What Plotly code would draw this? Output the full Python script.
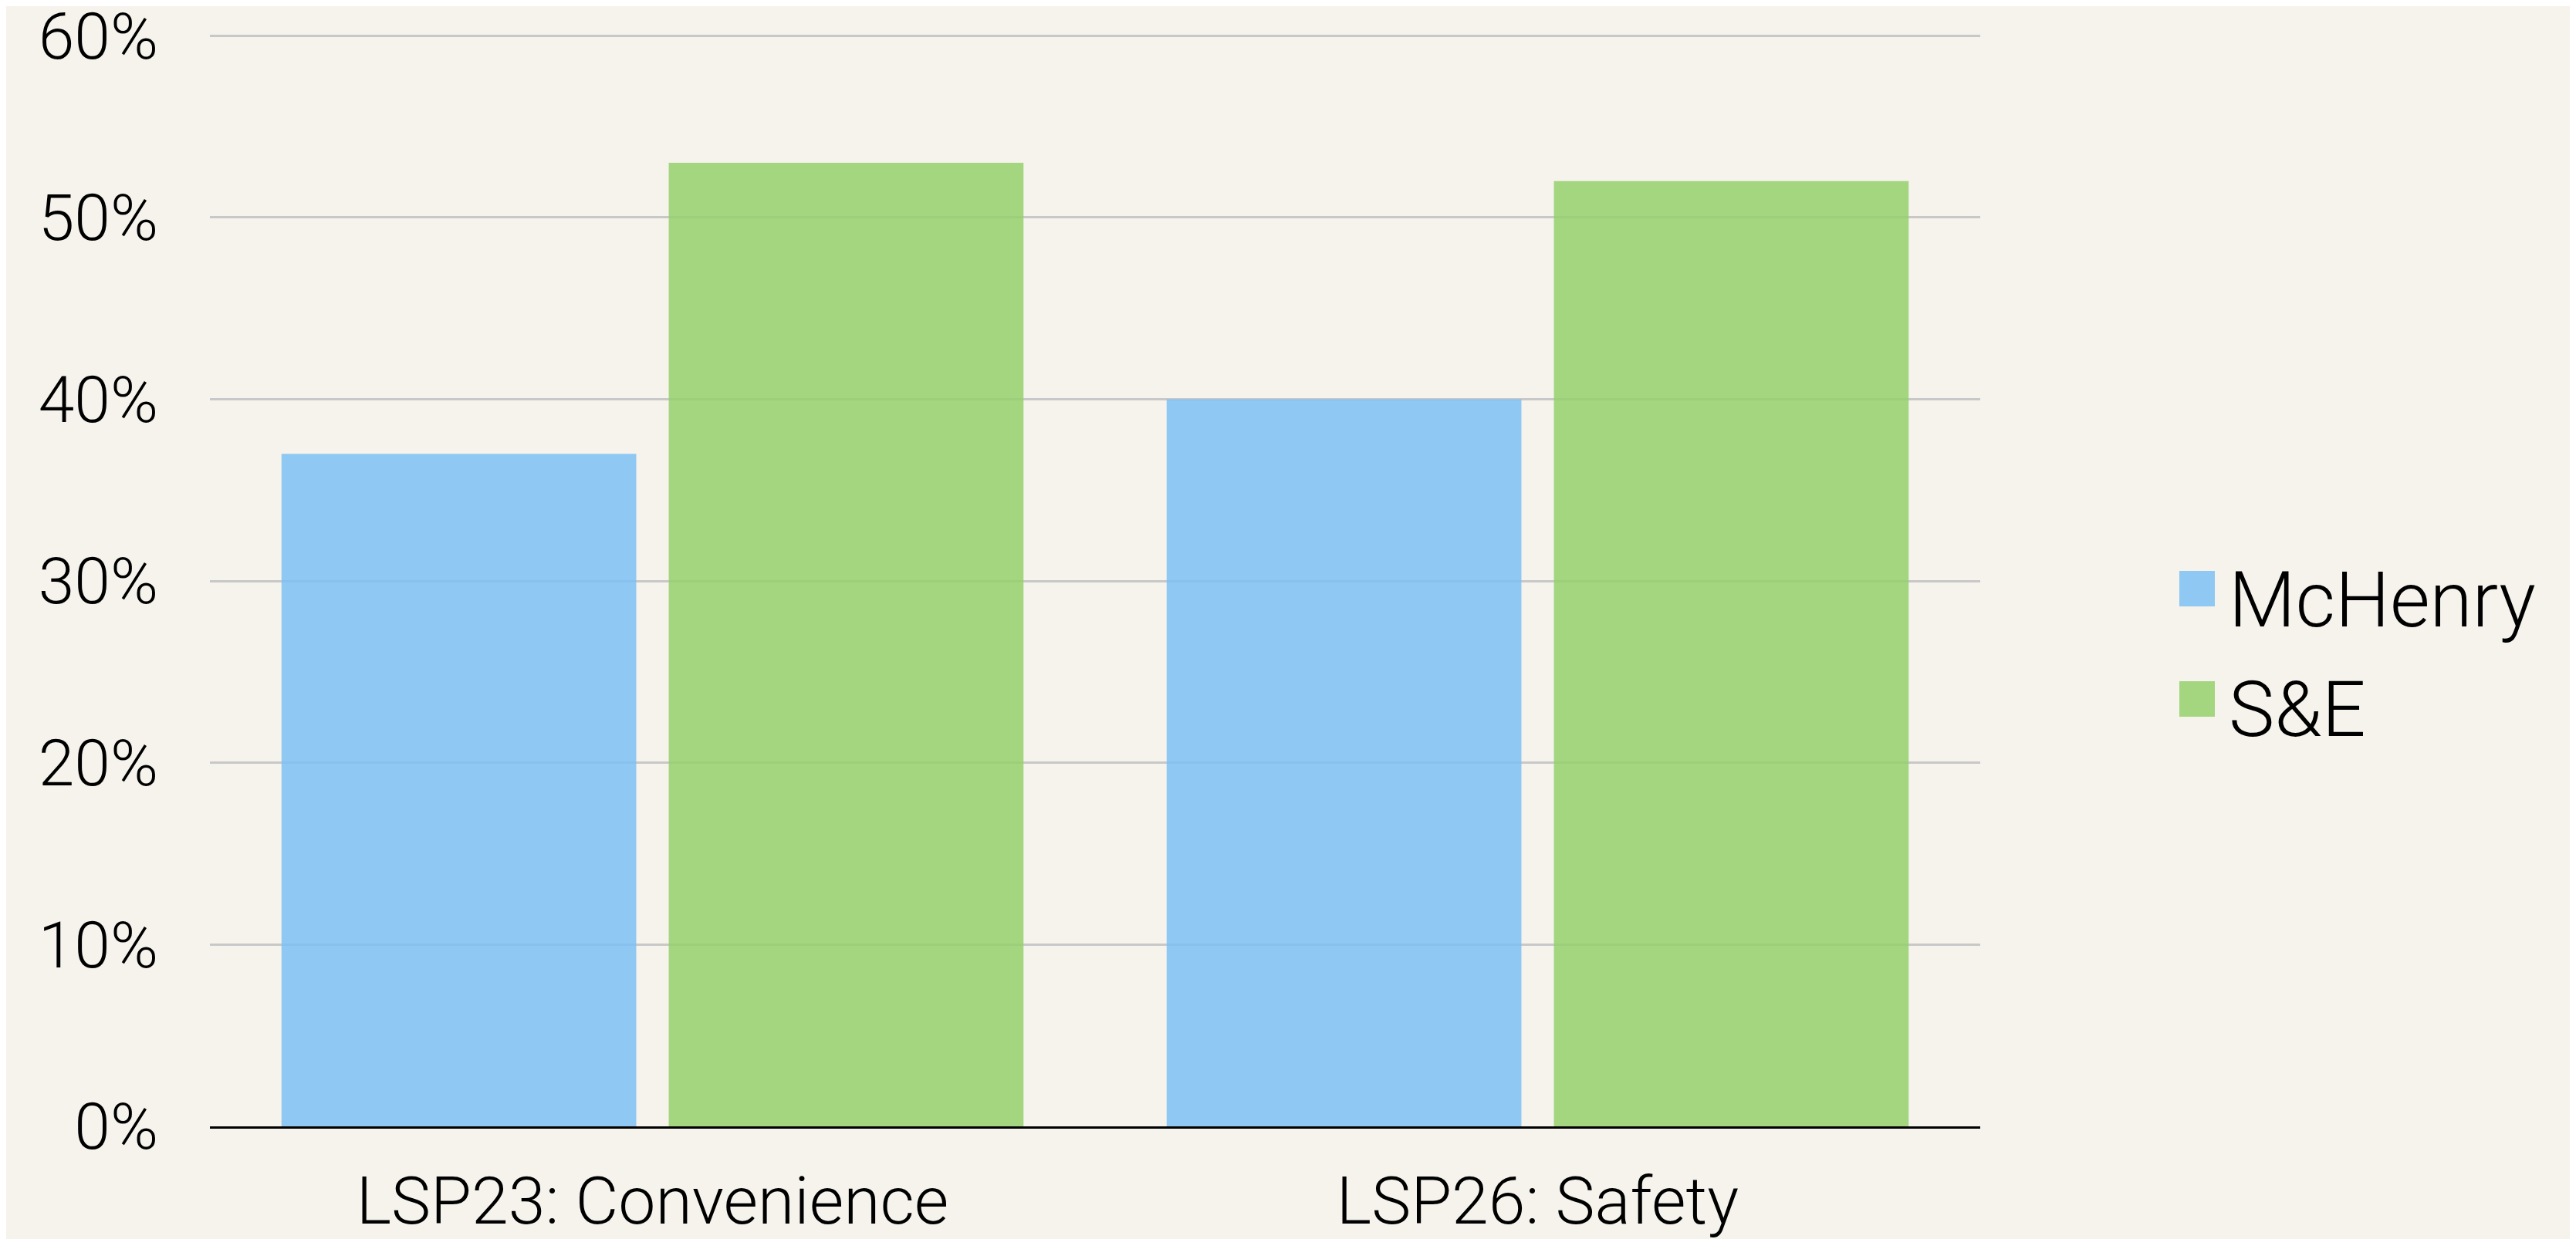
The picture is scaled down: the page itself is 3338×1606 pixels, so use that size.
import plotly.graph_objects as go

categories = ["LSP23: Convenience", "LSP26: Safety"]
series_names = ["McHenry", "S&E"]
mchenry = [37, 40]
se = [53, 52]
y_ticks = [0, 10, 20, 30, 40, 50, 60]
y_tick_labels = ["0%", "10%", "20%", "30%", "40%", "50%", "60%"]

W, H = 3338, 1606
OFF = 8  # page body margin offset
ML, MR, MT, MB = 272 - OFF, 772 + OFF, 45 - OFF, 146 + OFF
colors = ["rgba(124,191,243,0.85)", "rgba(149,207,108,0.85)"]
FONT = "Helvetica Neue, Roboto, Liberation Sans, Arial, sans-serif"

fig = go.Figure()
for name, vals, col in zip(series_names, [mchenry, se], colors):
    fig.add_trace(go.Bar(x=categories, y=vals, name=name,
                         marker=dict(color=col, line=dict(width=0)),
                         showlegend=False))

# manual legend (large swatches); positions given in screen pixels
pw = W - ML - MR
ph = H - MT - MB
def px_x(p):
    return (p - OFF - ML) / pw
def px_y(p):
    return (H - MB - (p - OFF)) / ph

sw_x0, sw_size, row0, pitch = 2824, 46, 740, 143
for i, (name, col) in enumerate(zip(series_names, colors)):
    top = row0 + i * pitch
    fig.add_shape(type="rect", xref="paper", yref="paper",
                  x0=px_x(sw_x0), x1=px_x(sw_x0 + sw_size),
                  y0=px_y(top + sw_size), y1=px_y(top),
                  fillcolor=col, line=dict(width=0))
    fig.add_annotation(xref="paper", yref="paper", x=px_x(2886), y=px_y(top + 37),
                       xanchor="left", yanchor="middle", showarrow=False,
                       text=name.replace("&", "&amp;"),
                       font=dict(family=FONT, size=100, color="black", weight=300))

fig.update_layout(
    width=W, height=H,
    margin=dict(l=ML, r=MR, t=MT, b=MB, pad=0, autoexpand=False),
    paper_bgcolor="#F5F3EC", plot_bgcolor="#F5F3EC",
    barmode="group", bargap=0.125, bargroupgap=0.084,
    font=dict(family=FONT, size=84, color="black", weight=300),
)
fig.update_xaxes(showgrid=False, showline=True, linecolor="black", linewidth=3,
                 ticks="", tickfont=dict(size=86), ticklabelstandoff=20,
                 automargin=False)
fig.update_yaxes(range=[0, 60.05], tickvals=y_ticks, ticktext=y_tick_labels,
                 showgrid=True, gridcolor="#C8C8C8", gridwidth=3,
                 zeroline=False, showline=False, ticks="",
                 ticklabelstandoff=66, automargin=False,
                 ticklabeloverflow="allow")
fig.write_html("out.html")
